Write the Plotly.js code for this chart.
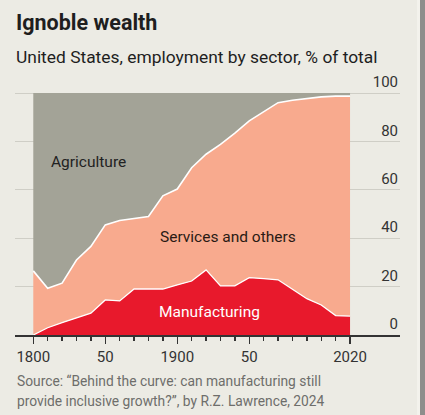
<!DOCTYPE html>
<html>
<head>
<meta charset="utf-8">
<script src="https://cdn.plot.ly/plotly-3.0.1.min.js"></script>
<style>
  html, body { margin: 0; padding: 0; background: #ECEBE4; }
  #wrap { position: relative; width: 425px; height: 415px; overflow: hidden; }
  #chart { position: absolute; left: 0; top: 0; width: 425px; height: 415px; }
  #edge-light { position: absolute; left: 417px; top: 0; width: 3px; height: 415px; background: #F3F2EC; }
  #edge-dark { position: absolute; left: 420px; top: 0; width: 5px; height: 415px; background: #8E8E8C; }
</style>
</head>
<body>
<div id="wrap">
  <div id="chart"></div>
  <div id="edge-light"></div>
  <div id="edge-dark"></div>
</div>
<script>
// US employment by sector, share of total (%), by decade
const years = [1800, 1810, 1820, 1830, 1840, 1850, 1860, 1870, 1880, 1890, 1900, 1910,
               1920, 1930, 1940, 1950, 1960, 1970, 1980, 1990, 2000, 2010, 2020];
const manufacturing = [0, 3, 5.1, 6.9, 9, 14.5, 14.1, 19, 19, 19, 20.7, 22.3,
                       26.9, 20.3, 20.3, 23.7, 23.3, 22.8, 18.9, 15, 12.4, 8, 7.8];
const services = [26.5, 16.3, 16.3, 24.1, 27.6, 31, 33.2, 29, 30, 38.5, 39.6, 46.8,
                  47.8, 58.5, 63.1, 64.8, 69, 73.2, 78.1, 82.7, 86, 90.7, 90.9];
const agriculture = [73.5, 80.7, 78.6, 69, 63.4, 54.5, 52.7, 52, 51, 42.5, 39.7, 30.9,
                     25.3, 21.2, 16.6, 11.5, 7.7, 4, 3, 2.3, 1.6, 1.3, 1.3];

const sectorNames = ["Manufacturing", "Services and others", "Agriculture"];
const yTicks = [0, 20, 40, 60, 80, 100];
const xMajorTicks = [1800, 1850, 1900, 1950, 2000, 2020];
const xMajorLabels = ["1800", "50", "1900", "50", "", "2020"];
const xMinorTicks = years;

const W = 425, H = 415;
// top margin leaves headroom above 100 so the "100" label sits inside the plot
const M = { l: 15, r: 25, t: 70, b: 80 };
const plotH = H - M.t - M.b;
const plotW = W - M.l - M.r;
const yMax = 100 * plotH / (H - M.b - 93);
// pixel helpers for text placed outside the plot area
const px = x => (x - M.l) / plotW;
const py = y => (H - M.b - y) / plotH;

const FONT = "Roboto, 'Liberation Sans', sans-serif";

const colors = { manufacturing: "#E8192C", services: "#F8AA8E", agriculture: "#A3A397" };

const traces = [
  {
    x: years, y: manufacturing, name: sectorNames[0], type: "scatter", mode: "lines",
    stackgroup: "one", fillcolor: colors.manufacturing,
    line: { color: "#FFFFFF", width: 1.3, shape: "linear" }
  },
  {
    x: years, y: services, name: sectorNames[1], type: "scatter", mode: "lines",
    stackgroup: "one", fillcolor: colors.services,
    line: { color: "#FFFFFF", width: 1.6, shape: "linear" }
  },
  {
    x: years, y: agriculture, name: sectorNames[2], type: "scatter", mode: "lines",
    stackgroup: "one", fillcolor: colors.agriculture,
    line: { color: colors.agriculture, width: 0, shape: "linear" }
  }
];

const layout = {
  width: W, height: H,
  margin: M,
  paper_bgcolor: "rgba(0,0,0,0)",
  plot_bgcolor: "rgba(0,0,0,0)",
  showlegend: false,
  font: { family: FONT, color: "#333333" },
  xaxis: {
    range: [1787.3, 2054.7],
    tickmode: "array", tickvals: xMajorTicks, ticktext: xMajorLabels,
    ticks: "outside", ticklen: 7, tickwidth: 1.3, tickcolor: "#333333",
    minor: { tickmode: "array", tickvals: xMinorTicks, ticks: "outside",
             ticklen: 4, tickwidth: 1.3, tickcolor: "#333333", showgrid: false },
    showline: true, linecolor: "#333333", linewidth: 1.6,
    showgrid: false, zeroline: false,
    tickfont: { size: 15, color: "#333333", family: FONT },
    fixedrange: true
  },
  yaxis: {
    range: [0, yMax], side: "right",
    tickmode: "array", tickvals: yTicks, ticktext: yTicks.map(String),
    ticks: "", ticklabelposition: "inside",
    ticklabelshift: -11, ticklabelstandoff: -1,
    showgrid: true, gridcolor: "#CFCEC6", gridwidth: 1,
    zeroline: false, showline: false,
    tickfont: { size: 15, color: "#333333", family: FONT },
    fixedrange: true
  },
  annotations: [
    { text: "<b>Ignoble wealth</b>", xref: "paper", yref: "paper", x: px(14), y: py(22),
      xanchor: "left", yanchor: "middle", showarrow: false,
      font: { size: 21.5, color: "#1E1E1E", family: FONT } },
    { text: "United States, employment by sector, % of total", xref: "paper", yref: "paper",
      x: px(14), y: py(57), xanchor: "left", yanchor: "middle", showarrow: false,
      font: { size: 17.4, color: "#1E1E1E", family: FONT } },
    { text: "Source: \u201cBehind the curve: can manufacturing still", xref: "paper", yref: "paper",
      x: px(15), y: py(381), xanchor: "left", yanchor: "middle", showarrow: false,
      font: { size: 13.8, color: "#6E6E6B", family: FONT } },
    { text: "provide inclusive growth?\u201d, by R.Z. Lawrence, 2024", xref: "paper", yref: "paper",
      x: px(15), y: py(401), xanchor: "left", yanchor: "middle", showarrow: false,
      font: { size: 13.8, color: "#6E6E6B", family: FONT } },
    { text: sectorNames[2], x: 1838, y: 71.5, xref: "x", yref: "y", showarrow: false,
      xanchor: "center", yanchor: "middle",
      font: { size: 15.5, color: "#222222", family: FONT } },
    { text: sectorNames[1], x: 1935.3, y: 40.5, xref: "x", yref: "y", showarrow: false,
      xanchor: "center", yanchor: "middle",
      font: { size: 15.5, color: "#2A1A14", family: FONT } },
    { text: sectorNames[0], x: 1922.7, y: 9.5, xref: "x", yref: "y", showarrow: false,
      xanchor: "center", yanchor: "middle",
      font: { size: 15.5, color: "#FFFFFF", family: FONT } }
  ]
};

Plotly.newPlot("chart", traces, layout, { staticPlot: true, displayModeBar: false });
</script>
</body>
</html>
